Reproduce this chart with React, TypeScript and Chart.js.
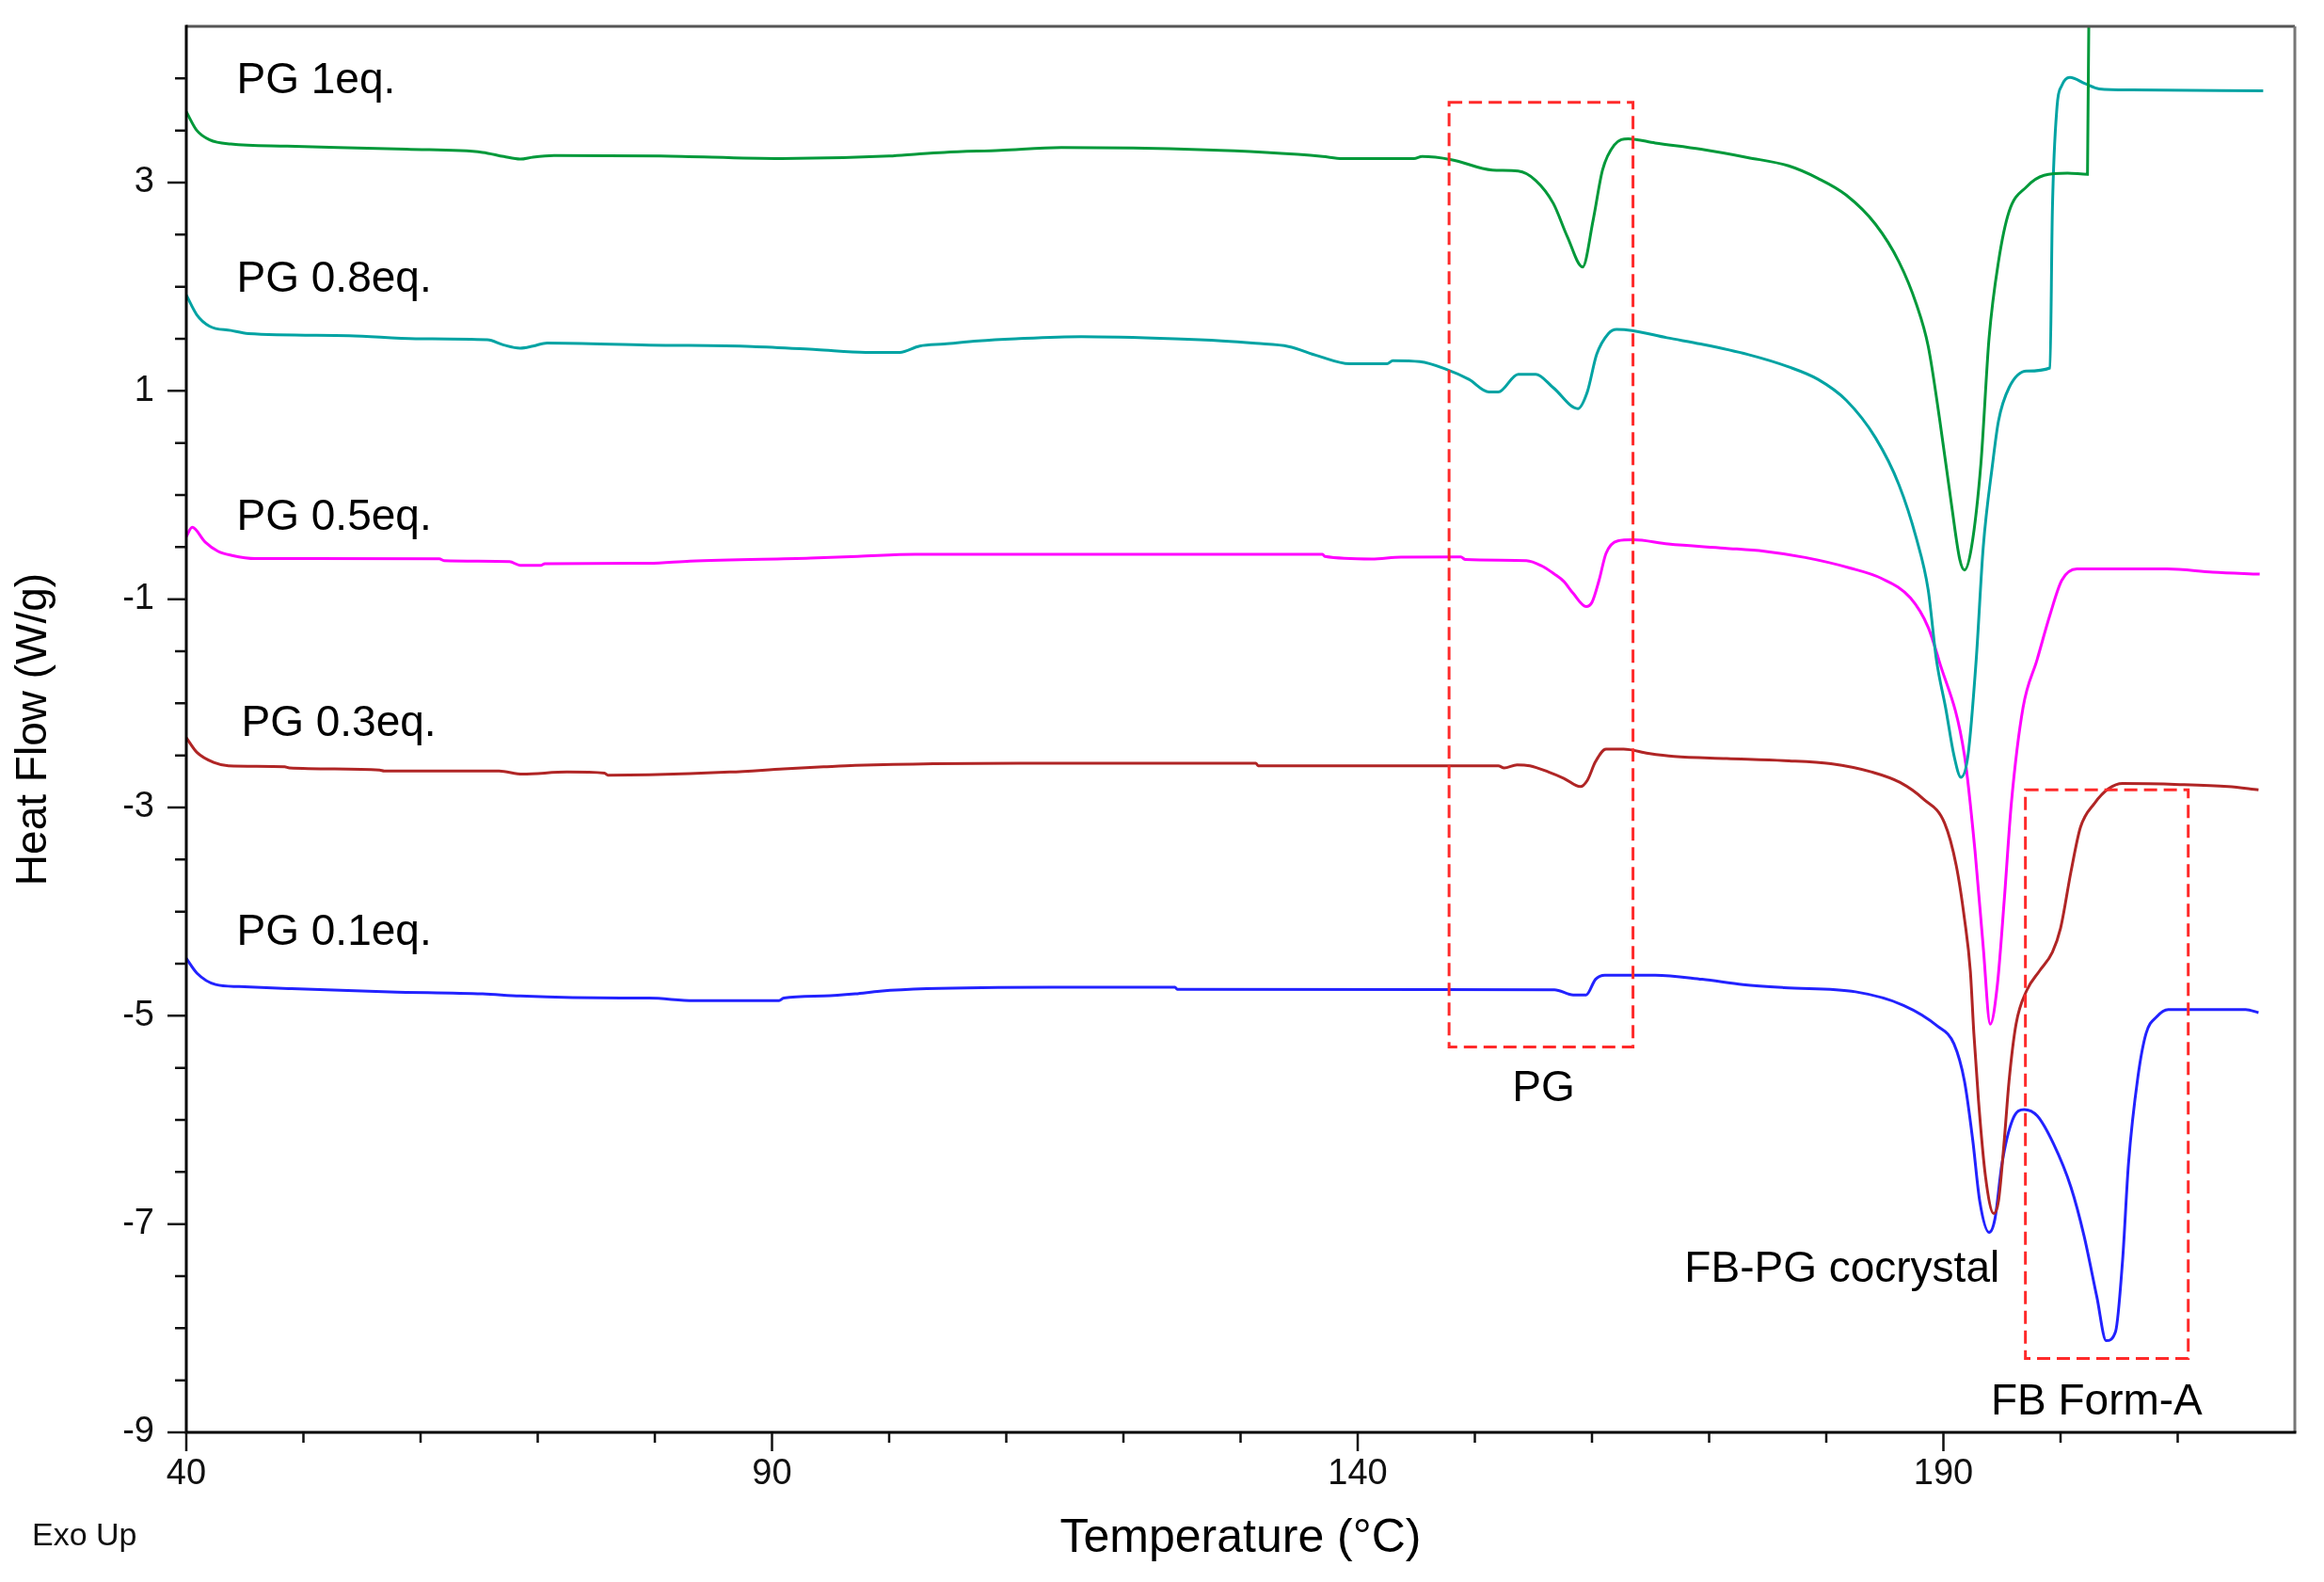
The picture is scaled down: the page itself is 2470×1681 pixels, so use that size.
import React, { useEffect, useRef } from "react";
import { Chart, registerables } from "chart.js";

Chart.register(...registerables);

const FONT = '"Liberation Sans", Arial, Helvetica, sans-serif';

// Axis ranges and ticks
const X_MIN = 40;
const X_MAX = 220;
const Y_MIN = -9;
const Y_MAX = 4.5;
const xMajorTicks = [40, 90, 140, 190];
const xMinorTicks = [50, 60, 70, 80, 100, 110, 120, 130, 150, 160, 170, 180, 200, 210];
const yMajorTicks = [-9, -7, -5, -3, -1, 1, 3];
const yMinorTicks = [-8.5, -8, -7.5, -6.5, -6, -5.5, -4.5, -4, -3.5, -2.5, -2, -1.5, -0.5, 0, 0.5, 1.5, 2, 2.5, 3.5, 4];

// Series: [temperature °C, heat flow W/g]
const pg1eq: [number, number][] = [
  [40, 3.68], [40.9, 3.5], [42, 3.41], [43.8, 3.37], [48.6, 3.35], [58.8, 3.32], [65.3, 3.29],
  [67.1, 3.25], [68.5, 3.225], [69.6, 3.245], [71.4, 3.26], [80.5, 3.255], [90.8, 3.23],
  [100, 3.255], [102.6, 3.276], [104.7, 3.29], [109.5, 3.31], [114.7, 3.336], [127.1, 3.315],
  [132.2, 3.29], [134.9, 3.27], [137, 3.25], [138.7, 3.23], [144.8, 3.23], [145.5, 3.25],
  [148, 3.22], [151.5, 3.12], [153.7, 3.11], [155.2, 3.02], [156.7, 2.8], [157.9, 2.48],
  [159.2, 2.19], [160.1, 2.64], [160.9, 3.12], [161.9, 3.36], [163.1, 3.42], [165.4, 3.38],
  [169.3, 3.32], [173.3, 3.24], [176.8, 3.16], [179.3, 3.04], [181.7, 2.88], [184.2, 2.6],
  [186.2, 2.24], [187.7, 1.83], [188.7, 1.43], [189.7, 0.71], [190.7, -0.1], [191.4, -0.62],
  [191.8, -0.72], [192.4, -0.5], [193.2, 0.3], [193.9, 1.51], [194.7, 2.24], [195.6, 2.72],
  [197.1, 2.96], [198.6, 3.07], [200.6, 3.09], [202.3, 3.08], [202.5, 6.0],
];

const pg08eq: [number, number][] = [
  [40, 1.92], [40.9, 1.73], [42, 1.62], [43.8, 1.58], [45.3, 1.55], [53.9, 1.53], [59.6, 1.5],
  [65.7, 1.49], [67.1, 1.44], [68.5, 1.41], [69.6, 1.43], [70.8, 1.46], [79.5, 1.44],
  [88.3, 1.426], [93.8, 1.396], [98, 1.37], [100.9, 1.37], [102.6, 1.43], [104.7, 1.45],
  [107.6, 1.48], [110.8, 1.5], [116.4, 1.52], [124.4, 1.5], [128.4, 1.48], [131.3, 1.456],
  [134.1, 1.426], [136.6, 1.336], [139.3, 1.26], [142.5, 1.26], [143, 1.29], [145.3, 1.28],
  [147.5, 1.21], [149.5, 1.11], [151.2, 0.99], [152, 0.99], [153.7, 1.16], [155.2, 1.16],
  [156.7, 1.03], [158.8, 0.83], [159.6, 0.99], [160.4, 1.35], [161.4, 1.55], [162.1, 1.59],
  [163.4, 1.58], [166.4, 1.51], [169.3, 1.45], [173.3, 1.35], [176.8, 1.23], [179.3, 1.11],
  [181.7, 0.91], [184.2, 0.55], [186.2, 0.1], [187.7, -0.42], [188.7, -0.91], [189.4, -1.58],
  [190.2, -2.05], [190.9, -2.5], [191.5, -2.71], [192.1, -2.5], [192.8, -1.58], [193.4, -0.5],
  [194.2, 0.3], [194.7, 0.71], [195.6, 1.03], [197.1, 1.19], [199.1, 1.22], [199.3, 2.72],
  [199.7, 3.73], [200.1, 3.93], [200.8, 4.01], [202.1, 3.95], [203.3, 3.9], [206.1, 3.89],
  [217.3, 3.88],
];

const pg05eq: [number, number][] = [
  [40, -0.4], [40.5, -0.31], [41.6, -0.45], [42.7, -0.54], [43.9, -0.58], [45.9, -0.61],
  [61.6, -0.613], [62, -0.63], [67.6, -0.64], [68.5, -0.675], [70.3, -0.675], [70.6, -0.66],
  [79.5, -0.656], [83, -0.635], [93.3, -0.605], [97.3, -0.59], [102.2, -0.569], [137, -0.569],
  [137.2, -0.59], [141.2, -0.614], [143.7, -0.596], [148.8, -0.595], [149.2, -0.62],
  [154.4, -0.63], [155.7, -0.68], [156.8, -0.76], [157.6, -0.83], [158.4, -0.945],
  [159.5, -1.07], [160, -1.03], [160.6, -0.82], [161.2, -0.56], [162.2, -0.44], [163.5, -0.43],
  [166.5, -0.47], [171.3, -0.51], [174.7, -0.54], [178.2, -0.6], [182, -0.7], [184.7, -0.8],
  [187.2, -0.99], [188.7, -1.27], [189.6, -1.58], [191.8, -2.5], [192.7, -3.42], [193.4, -4.34],
  [194, -5.08], [194.6, -4.71], [195.2, -3.88], [195.8, -2.96], [196.8, -2.04], [198, -1.58],
  [199.1, -1.15], [200.1, -0.82], [201.4, -0.71], [209.1, -0.71], [213, -0.74], [217, -0.76],
];

const pg03eq: [number, number][] = [
  [40, -2.33], [40.9, -2.47], [42.4, -2.57], [43.6, -2.6], [48.4, -2.61], [48.8, -2.62],
  [56.5, -2.64], [56.9, -2.65], [66.7, -2.65], [68.7, -2.68], [72.5, -2.66], [75.7, -2.67],
  [76, -2.69], [79.5, -2.686], [86.4, -2.66], [91, -2.63], [94.4, -2.61], [97.1, -2.596],
  [111.2, -2.575], [131.3, -2.575], [131.5, -2.6], [152, -2.6], [152.5, -2.62], [153.6, -2.59],
  [154.7, -2.6], [156.3, -2.66], [157.6, -2.72], [159, -2.8], [159.6, -2.74], [160.3, -2.56],
  [161.2, -2.44], [162.7, -2.44], [164.8, -2.48], [167, -2.51], [171.5, -2.53], [176.4, -2.55],
  [180.4, -2.58], [183.9, -2.66], [186.3, -2.76], [188.3, -2.92], [190.1, -3.15], [191.1, -3.56],
  [191.8, -4.07], [192.3, -4.57], [192.6, -5.17], [193, -5.82], [193.6, -6.55], [194.3, -6.9],
  [194.7, -6.78], [195.2, -6.19], [195.6, -5.63], [196.2, -5.08], [197.1, -4.76], [198.2, -4.57],
  [199.3, -4.39], [200, -4.16], [200.9, -3.61], [201.7, -3.19], [202.9, -2.96], [204.1, -2.82],
  [205.3, -2.77], [210.2, -2.78], [214.3, -2.8], [216.9, -2.83],
];

const pg01eq: [number, number][] = [
  [40, -4.45], [40.9, -4.59], [42.5, -4.7], [44.5, -4.72], [49, -4.74], [57.4, -4.77],
  [65.3, -4.79], [68.5, -4.81], [77.1, -4.83], [79.5, -4.83], [83.3, -4.855], [90.6, -4.855],
  [91, -4.83], [94.4, -4.81], [97.1, -4.79], [99.2, -4.764], [103.2, -4.74], [113.9, -4.725],
  [124.4, -4.725], [124.6, -4.746], [156.8, -4.75], [158.4, -4.8], [159.5, -4.8], [160.3, -4.65],
  [161.1, -4.61], [165.4, -4.61], [169.4, -4.65], [172.9, -4.7], [176.4, -4.73], [182.5, -4.77],
  [186.6, -4.9], [189.5, -5.1], [190.9, -5.27], [191.8, -5.63], [192.5, -6.19], [193.1, -6.78],
  [193.9, -7.08], [194.4, -6.95], [195, -6.42], [195.9, -6.0], [196.9, -5.9], [198, -5.96],
  [199.4, -6.23], [200.9, -6.65], [202, -7.11], [203.1, -7.7], [203.9, -8.12], [204.7, -8.03],
  [205.3, -7.34], [205.8, -6.42], [206.6, -5.59], [207.3, -5.17], [208.2, -5.01], [209.2, -4.94],
  [215.8, -4.94], [216.9, -4.97],
];

const seriesLabels = ["PG 1eq.", "PG 0.8eq.", "PG 0.5eq.", "PG 0.3eq.", "PG 0.1eq."];
const seriesData = [pg1eq, pg08eq, pg05eq, pg03eq, pg01eq];
const seriesColors = ["#00993A", "#00A3A3", "#FF00FF", "#B02525", "#2222FF"];

// Curve labels: [text, T at left edge, HF at baseline]
const curveLabels: [string, number, number][] = [
  ["PG 1eq.", 44.3, 3.86],
  ["PG 0.8eq.", 44.3, 1.955],
  ["PG 0.5eq.", 44.3, -0.33],
  ["PG 0.3eq.", 44.7, -2.316],
  ["PG 0.1eq.", 44.3, -4.32],
  ["PG", 153.2, -5.82],
  ["FB-PG cocrystal", 167.9, -7.55],
  ["FB Form-A", 194.05, -8.83],
];

// Dashed highlight boxes: [T left, T right, HF top, HF bottom]
const highlightBoxes: [number, number, number, number][] = [
  [147.8, 163.5, 3.77, -5.3],
  [197.0, 210.9, -2.83, -8.29],
];

const decorPlugin = {
  id: "dscDecor",
  afterDatasetsDraw(chart: any) {
    const { ctx } = chart;
    const xs = chart.scales.x;
    const ys = chart.scales.y;
    ctx.save();
    ctx.strokeStyle = "#FF2A2A";
    ctx.lineWidth = 3;
    ctx.setLineDash([14, 7]);
    for (const [t0, t1, h0, h1] of highlightBoxes) {
      const x0 = xs.getPixelForValue(t0);
      const x1 = xs.getPixelForValue(t1);
      const y0 = ys.getPixelForValue(h0);
      const y1 = ys.getPixelForValue(h1);
      ctx.strokeRect(x0, y0, x1 - x0, y1 - y0);
    }
    ctx.restore();
  },
  afterDraw(chart: any) {
    const { ctx, chartArea } = chart;
    const xs = chart.scales.x;
    const ys = chart.scales.y;
    const { left, right, top, bottom } = chartArea;
    ctx.save();
    // frame
    ctx.lineCap = "butt";
    ctx.lineWidth = 3;
    ctx.strokeStyle = "#555555";
    ctx.beginPath();
    ctx.moveTo(left, top);
    ctx.lineTo(right, top);
    ctx.stroke();
    ctx.strokeStyle = "#777777";
    ctx.beginPath();
    ctx.moveTo(right, top);
    ctx.lineTo(right, bottom);
    ctx.stroke();
    ctx.strokeStyle = "#000000";
    ctx.beginPath();
    ctx.moveTo(left, top - 1.5);
    ctx.lineTo(left, bottom);
    ctx.moveTo(left - 1.5, bottom);
    ctx.lineTo(right + 1.5, bottom);
    ctx.stroke();

    // tick marks
    ctx.lineWidth = 2.5;
    ctx.strokeStyle = "#111111";
    ctx.beginPath();
    for (const v of yMajorTicks) {
      const y = ys.getPixelForValue(v);
      ctx.moveTo(left - 20, y);
      ctx.lineTo(left, y);
    }
    for (const v of yMinorTicks) {
      const y = ys.getPixelForValue(v);
      ctx.moveTo(left - 12, y);
      ctx.lineTo(left, y);
    }
    for (const v of xMajorTicks) {
      const x = xs.getPixelForValue(v);
      ctx.moveTo(x, bottom);
      ctx.lineTo(x, bottom + 20);
    }
    for (const v of xMinorTicks) {
      const x = xs.getPixelForValue(v);
      ctx.moveTo(x, bottom);
      ctx.lineTo(x, bottom + 11);
    }
    ctx.stroke();

    // curve annotations
    ctx.fillStyle = "#000000";
    ctx.font = `46px ${FONT}`;
    ctx.textAlign = "left";
    ctx.textBaseline = "alphabetic";
    for (const [text, t, h] of curveLabels) {
      ctx.fillText(text, xs.getPixelForValue(t), ys.getPixelForValue(h));
    }

    // Exo Up
    ctx.font = `34px ${FONT}`;
    ctx.fillStyle = "#111111";
    ctx.fillText("Exo Up", 34, 1642);
    ctx.restore();
  },
};

export default function App() {
  const canvasRef = useRef<HTMLCanvasElement | null>(null);

  useEffect(() => {
    const canvas = canvasRef.current;
    if (!canvas) return;
    const chart = new Chart(canvas, {
      type: "line",
      data: {
        datasets: seriesData.map((pts, i) => ({
          label: seriesLabels[i],
          data: pts.map(([x, y]) => ({ x, y })),
          borderColor: seriesColors[i],
          backgroundColor: seriesColors[i],
          borderWidth: 3,
          pointRadius: 0,
          fill: false,
          cubicInterpolationMode: "monotone" as const,
        })),
      },
      options: {
        animation: false,
        responsive: false,
        maintainAspectRatio: false,
        devicePixelRatio: 1,
        events: [],
        layout: { padding: { top: 28, right: 31, left: 0, bottom: 0 } },
        plugins: {
          legend: { display: false },
          tooltip: { enabled: false },
        },
        scales: {
          x: {
            type: "linear",
            min: X_MIN,
            max: X_MAX,
            afterFit: (s: any) => {
              s.height = 159;
              s.paddingLeft = 0;
              s.paddingRight = 0;
            },
            afterBuildTicks: (s: any) => {
              s.ticks = xMajorTicks.map((v) => ({ value: v }));
            },
            ticks: {
              font: { family: FONT, size: 38 },
              color: "#111111",
              padding: 22,
              autoSkip: false,
              maxRotation: 0,
            },
            grid: { display: false, drawTicks: false },
            border: { display: false },
            title: {
              display: true,
              text: "Temperature (°C)",
              font: { family: FONT, size: 50 },
              color: "#000000",
              padding: { top: 0, bottom: 16 },
            },
          },
          y: {
            type: "linear",
            min: Y_MIN,
            max: Y_MAX,
            afterFit: (s: any) => {
              s.width = 198;
              s.paddingTop = 0;
              s.paddingBottom = 0;
            },
            afterBuildTicks: (s: any) => {
              s.ticks = yMajorTicks.map((v) => ({ value: v }));
            },
            ticks: {
              font: { family: FONT, size: 38 },
              color: "#111111",
              padding: 34,
              autoSkip: false,
            },
            grid: { display: false, drawTicks: false },
            border: { display: false },
            title: {
              display: true,
              text: "Heat Flow (W/g)",
              font: { family: FONT, size: 46 },
              color: "#000000",
              padding: { top: 9, bottom: 0 },
            },
          },
        },
      },
      plugins: [decorPlugin],
    });
    return () => chart.destroy();
  }, []);

  return (
    <div style={{ position: "fixed", left: 0, top: 0, width: 2470, height: 1681, background: "#ffffff" }}>
      <canvas ref={canvasRef} width={2470} height={1681} style={{ display: "block", width: 2470, height: 1681 }} />
    </div>
  );
}
